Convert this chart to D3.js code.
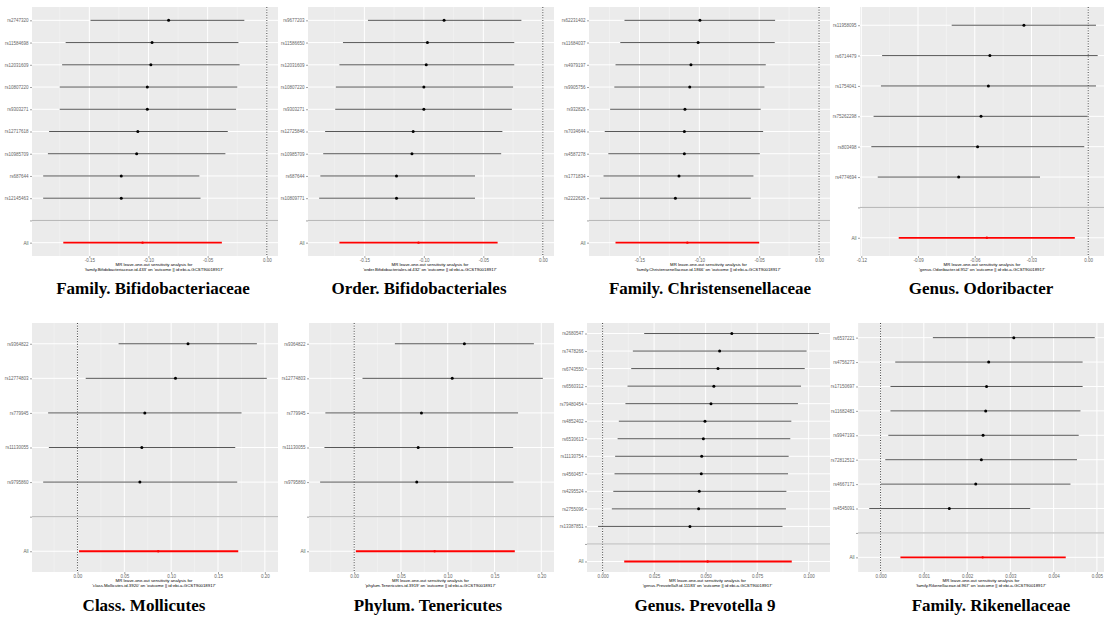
<!DOCTYPE html>
<html>
<head>
<meta charset="utf-8">
<script src="https://cdn.jsdelivr.net/npm/d3@7"></script>
<style>
body { margin: 0; background: #fff; }
</style>
</head>
<body>
<script>
var w = 1104;
var h = 619;

// each panel: SNPs top to bottom, last entry is the pooled "All" estimate
var bifFamSnp = ["rs2747320", "rs11584698", "rs12031609", "rs10807220", "rs9303271", "rs12717618", "rs10985709", "rs687644", "rs12145463", "All"];
var bifFamB  = [-0.083, -0.097, -0.098, -0.101, -0.101, -0.109, -0.110, -0.123, -0.123, -0.105];
var bifFamLo = [-0.149, -0.170, -0.173, -0.175, -0.175, -0.184, -0.185, -0.189, -0.189, -0.172];
var bifFamHi = [-0.019, -0.024, -0.023, -0.025, -0.026, -0.033, -0.035, -0.057, -0.056, -0.038];
var bifFamTicks = [-0.15, -0.10, -0.05, 0.00];

var bifOrdSnp = ["rs9677203", "rs11586650", "rs12031609", "rs10807220", "rs9303271", "rs12725846", "rs10985709", "rs687644", "rs10809771", "All"];
var bifOrdB  = [-0.083, -0.097, -0.098, -0.100, -0.100, -0.109, -0.110, -0.123, -0.123, -0.1045];
var bifOrdLo = [-0.147, -0.168, -0.171, -0.174, -0.1745, -0.183, -0.1846, -0.187, -0.188, -0.171];
var bifOrdHi = [-0.018, -0.024, -0.024, -0.025, -0.026, -0.034, -0.035, -0.057, -0.057, -0.038];
var bifOrdTicks = [-0.15, -0.10, -0.05, 0.00];

var chrFamSnp = ["rs62231402", "rs11684037", "rs4979197", "rs9905756", "rs932826", "rs7034644", "rs4587278", "rs1771834", "rs2222626", "All"];
var chrFamB  = [-0.0995, -0.101, -0.107, -0.108, -0.112, -0.1125, -0.1125, -0.117, -0.120, -0.110];
var chrFamLo = [-0.1625, -0.166, -0.170, -0.171, -0.1745, -0.179, -0.176, -0.180, -0.183, -0.170];
var chrFamHi = [-0.0367, -0.037, -0.0445, -0.0456, -0.0487, -0.0467, -0.0495, -0.0548, -0.057, -0.050];
var chrFamTicks = [-0.15, -0.10, -0.05, 0.00];

var odoGenSnp = ["rs11958095", "rs6714479", "rs1754041", "rs75262298", "rs803498", "rs4774694", "All"];
var odoGenB  = [-0.034, -0.052, -0.0528, -0.0567, -0.0585, -0.0685, -0.0536];
var odoGenLo = [-0.0722, -0.109, -0.1096, -0.1135, -0.1147, -0.1113, -0.1002];
var odoGenHi = [0.0041, 0.005, 0.0041, -0.0003, -0.0021, -0.0255, -0.0071];
var odoGenTicks = [-0.12, -0.09, -0.06, -0.03, 0.00];

var molClaSnp = ["rs9364822", "rs12774803", "rs779945", "rs11130055", "rs9795860", "All"];
var molClaB  = [0.118, 0.1046, 0.0719, 0.0687, 0.0666, 0.0862];
var molClaLo = [0.0439, 0.0088, -0.0313, -0.0305, -0.0366, 0.0017];
var molClaHi = [0.1915, 0.2021, 0.1751, 0.1684, 0.1705, 0.1716];
var molClaTicks = [0.00, 0.05, 0.10, 0.15, 0.20];

var tenPhySnp = ["rs9364822", "rs12774803", "rs779945", "rs11130055", "rs9795860", "All"];
var tenPhyB  = [0.1178, 0.1048, 0.0719, 0.0684, 0.0669, 0.0860];
var tenPhyLo = [0.0435, 0.0089, -0.0308, -0.0318, -0.0364, 0.0018];
var tenPhyHi = [0.1921, 0.2017, 0.1752, 0.1699, 0.1703, 0.1717];
var tenPhyTicks = [0.00, 0.05, 0.10, 0.15, 0.20];

var preGenSnp = ["rs2680547", "rs7478266", "rs6743550", "rs6560312", "rs79480454", "rs4852402", "rs6530613", "rs11130754", "rs4560457", "rs4295524", "rs2755096", "rs13387851", "All"];
var preGenB  = [0.0627, 0.0568, 0.0560, 0.0540, 0.0526, 0.0497, 0.0489, 0.0481, 0.0479, 0.0469, 0.0466, 0.0424, 0.0510];
var preGenLo = [0.0202, 0.0147, 0.0139, 0.0121, 0.0111, 0.0079, 0.0073, 0.0061, 0.0058, 0.0052, 0.0045, -0.0022, 0.0105];
var preGenHi = [0.1050, 0.0990, 0.0981, 0.0963, 0.0948, 0.0916, 0.0911, 0.0903, 0.0900, 0.0892, 0.0890, 0.0873, 0.0918];
var preGenTicks = [0.000, 0.025, 0.050, 0.075, 0.100];

var rikFamSnp = ["rs6537221", "rs4756273", "rs17150697", "rs11682481", "rs9947193", "rs72812512", "rs4667171", "rs4545091", "All"];
var rikFamB  = [0.00308, 0.00250, 0.00245, 0.00243, 0.00237, 0.00233, 0.00220, 0.00159, 0.00236];
var rikFamLo = [0.00121, 0.00034, 0.00023, 0.00023, 0.00018, 0.00011, 0.00001, -0.00026, 0.00046];
var rikFamHi = [0.00495, 0.00467, 0.00467, 0.00462, 0.00458, 0.00454, 0.00439, 0.00346, 0.00428];
var rikFamTicks = [0.000, 0.001, 0.002, 0.003, 0.004, 0.005];

var titles = ["Family. Bifidobacteriaceae", "Order. Bifidobacteriales", "Family. Christensenellaceae", "Genus. Odoribacter",
              "Class. Mollicutes", "Phylum. Tenericutes", "Genus. Prevotella 9", "Family. Rikenellaceae"];
var exposures = ["family.Bifidobacteriaceae.id.433", "order.Bifidobacteriales.id.432", "family.Christensenellaceae.id.1866",
                 "genus.Odoribacter.id.952", "class.Mollicutes.id.3920", "phylum.Tenericutes.id.3919",
                 "genus.Prevotella9.id.11183", "family.Rikenellaceae.id.967"];
var outcome = "outcome || id:ebi-a-GCST90018917";

var panels = [
  {snp: bifFamSnp, b: bifFamB, lo: bifFamLo, hi: bifFamHi, ticks: bifFamTicks, fmt: ".2f", x0: 0,   y0: 0,   left: 32, right: 278, titleX: 153},
  {snp: bifOrdSnp, b: bifOrdB, lo: bifOrdLo, hi: bifOrdHi, ticks: bifOrdTicks, fmt: ".2f", x0: 276, y0: 0,   left: 32, right: 278, titleX: 143},
  {snp: chrFamSnp, b: chrFamB, lo: chrFamLo, hi: chrFamHi, ticks: chrFamTicks, fmt: ".2f", x0: 552, y0: 0,   left: 37, right: 278, titleX: 158},
  {snp: odoGenSnp, b: odoGenB, lo: odoGenLo, hi: odoGenHi, ticks: odoGenTicks, fmt: ".2f", x0: 828, y0: 0,   left: 32, right: 281, titleX: 153},
  {snp: molClaSnp, b: molClaB, lo: molClaLo, hi: molClaHi, ticks: molClaTicks, fmt: ".2f", x0: 0,   y0: 316, left: 32, right: 278, titleX: 144},
  {snp: tenPhySnp, b: tenPhyB, lo: tenPhyLo, hi: tenPhyHi, ticks: tenPhyTicks, fmt: ".2f", x0: 276, y0: 316, left: 33, right: 278, titleX: 152},
  {snp: preGenSnp, b: preGenB, lo: preGenLo, hi: preGenHi, ticks: preGenTicks, fmt: ".3f", x0: 552, y0: 316, left: 35, right: 278, titleX: 153},
  {snp: rikFamSnp, b: rikFamB, lo: rikFamLo, hi: rikFamHi, ticks: rikFamTicks, fmt: ".3f", x0: 828, y0: 316, left: 30, right: 278, titleX: 163}
];

var svg = d3.select("body")
            .append("svg")
            .attr("width", w)
            .attr("height", h);

panels.forEach(function(p, i) {
  var g = svg.append("g").attr("transform", "translate(" + p.x0 + "," + p.y0 + ")");
  var top = 7, bottom = 256;
  var n = p.snp.length;

  // levels bottom to top: All, blank, then snps (ascending effect)
  var levels = ["All", ""].concat(p.snp.slice(0, n - 1).reverse());
  var rows = p.snp.map(function(s, k) {
    return {snp: s, b: p.b[k], lo: p.lo[k], hi: p.hi[k]};
  });

  var ext = d3.extent(p.lo.concat(p.hi, [0]));
  var pad = (ext[1] - ext[0]) * 0.05;
  var xScale = d3.scaleLinear()
    .domain([ext[0] - pad, ext[1] + pad])
    .range([p.left, p.right]);

  var step = (bottom - top) / (levels.length + 0.2);
  var yScale = d3.scalePoint()
    .domain(levels)
    .range([bottom - 0.6 * step, top + 0.6 * step]);

  g.append("rect")
    .attr("x", p.left).attr("y", top)
    .attr("width", p.right - p.left).attr("height", bottom - top)
    .attr("fill", "#ebebeb");

  // minor grid
  var tstep = p.ticks[1] - p.ticks[0];
  var minor = p.ticks.map(function(t) { return t - tstep / 2; }).concat([p.ticks[p.ticks.length - 1] + tstep / 2])
    .filter(function(t) { return xScale(t) > p.left && xScale(t) < p.right; });
  g.selectAll("line.minor").data(minor).enter().append("line")
    .attr("x1", function(d) { return xScale(d); }).attr("x2", function(d) { return xScale(d); })
    .attr("y1", top).attr("y2", bottom)
    .attr("stroke", "#f6f6f6").attr("stroke-width", 0.5);

  g.selectAll("line.vmaj").data(p.ticks).enter().append("line")
    .attr("x1", function(d) { return xScale(d); }).attr("x2", function(d) { return xScale(d); })
    .attr("y1", top).attr("y2", bottom)
    .attr("stroke", "#fff").attr("stroke-width", 1);

  g.selectAll("line.hmaj").data(levels).enter().append("line")
    .attr("x1", p.left).attr("x2", p.right)
    .attr("y1", function(d) { return yScale(d); }).attr("y2", function(d) { return yScale(d); })
    .attr("stroke", "#fff").attr("stroke-width", 1);

  // zero line and separator
  g.append("line")
    .attr("x1", xScale(0)).attr("x2", xScale(0))
    .attr("y1", top).attr("y2", bottom)
    .attr("stroke", "#111").attr("stroke-width", 0.8)
    .attr("stroke-dasharray", "1,1.6");

  g.append("line")
    .attr("x1", p.left).attr("x2", p.right)
    .attr("y1", yScale("")).attr("y2", yScale(""))
    .attr("stroke", "#b4b4b4").attr("stroke-width", 1);

  g.selectAll("line.ci").data(rows).enter().append("line")
    .attr("x1", function(d) { return xScale(d.lo); })
    .attr("x2", function(d) { return xScale(d.hi); })
    .attr("y1", function(d) { return yScale(d.snp); })
    .attr("y2", function(d) { return yScale(d.snp); })
    .attr("stroke", function(d) { return d.snp == "All" ? "#ff0000" : "#444"; })
    .attr("stroke-width", function(d) { return d.snp == "All" ? 1.8 : 0.9; });

  g.selectAll("circle").data(rows).enter().append("circle")
    .attr("cx", function(d) { return xScale(d.b); })
    .attr("cy", function(d) { return yScale(d.snp); })
    .attr("r", function(d) { return d.snp == "All" ? 1.2 : 1.5; })
    .attr("fill", function(d) { return d.snp == "All" ? "#ff0000" : "#000"; });

  // axes
  var fmt = d3.format(p.fmt);
  var xAxis = d3.axisBottom(xScale)
    .tickValues(p.ticks)
    .tickSize(2)
    .tickPadding(1)
    .tickFormat(function(d) { return fmt(d).replace("\u2212", "-"); });
  var yAxis = d3.axisLeft(yScale).tickSize(2).tickPadding(1.5);

  var ax = g.append("g").attr("transform", "translate(0," + bottom + ")").call(xAxis);
  var ay = g.append("g").attr("transform", "translate(" + p.left + ",0)").call(yAxis);
  [ax, ay].forEach(function(a) {
    a.select(".domain").remove();
    a.selectAll("line").attr("stroke", "#444").attr("stroke-width", 0.5);
    a.selectAll("text").attr("fill", "#666").attr("font-size", 4.5).attr("font-family", "Liberation Sans, Arial, sans-serif");
  });

  var cx = (p.left + Math.min(p.right, 276)) / 2;
  g.append("text")
    .attr("x", cx).attr("y", bottom + 10)
    .attr("text-anchor", "middle")
    .attr("font-size", 4.3).attr("font-family", "Liberation Sans, Arial, sans-serif")
    .text("MR leave-one-out sensitivity analysis for");
  g.append("text")
    .attr("x", cx).attr("y", bottom + 14.5)
    .attr("text-anchor", "middle")
    .attr("font-size", 4.3).attr("font-family", "Liberation Sans, Arial, sans-serif")
    .text("'" + exposures[i] + "' on '" + outcome + "'");

  g.append("text")
    .attr("x", p.titleX).attr("y", i < 4 ? 294 : 295)
    .attr("text-anchor", "middle")
    .attr("font-family", "Liberation Serif, Times New Roman, serif")
    .attr("font-weight", "bold")
    .attr("font-size", 17)
    .text(titles[i]);
});
</script>
</body>
</html>
